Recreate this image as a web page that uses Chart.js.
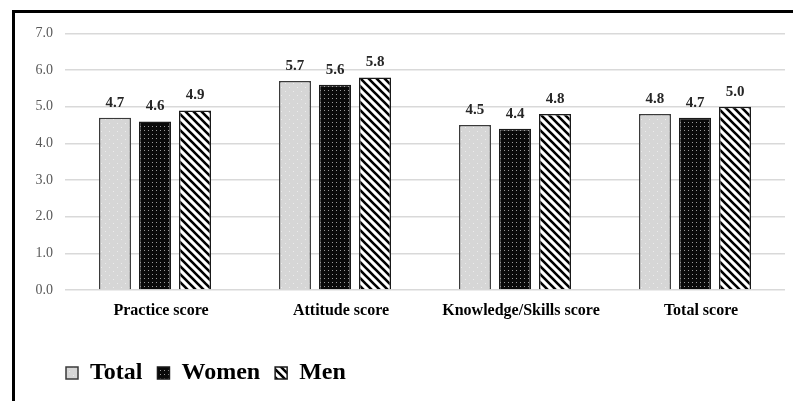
<!DOCTYPE html>
<html lang="en">
<head>
    <meta charset="UTF-8">
    <title>Scores</title>
    <script src="https://cdn.jsdelivr.net/npm/chart.js"></script>
    <style>
        html, body { margin: 0; padding: 0; background: #fff; }
        .frame {
            position: absolute;
            left: 12px;
            top: 10px;
            width: 778px;
            height: 388px;
            border-left: 3px solid #000;
            border-top: 3px solid #000;
        }
        .frame canvas { display: block; }
    </style>
</head>
<body>
    <div class="frame">
        <canvas id="myChartScores" width="778" height="388"></canvas>
    </div>

<script>
    const categories = ['Practice score', 'Attitude score', 'Knowledge/Skills score', 'Total score'];
    const seriesNames = ['Total', 'Women', 'Men'];
    const totalValues = [4.7, 5.7, 4.5, 4.8];
    const womenValues = [4.6, 5.6, 4.4, 4.7];
    const menValues = [4.9, 5.8, 4.8, 5.0];
    const yTicks = [0, 1, 2, 3, 4, 5, 6, 7];

    const serif = "'Liberation Serif', 'Times New Roman', serif";

    function makeTile(size, draw) {
        const c = document.createElement('canvas');
        c.width = size;
        c.height = size;
        draw(c.getContext('2d'), size);
        return document.createElement('canvas').getContext('2d').createPattern(c, 'repeat');
    }

    // light gray with faint dots
    const patTotal = makeTile(8, function (g, s) {
        g.fillStyle = '#d6d6d6';
        g.fillRect(0, 0, s, s);
        g.fillStyle = '#ececec';
        g.fillRect(2, 2, 1, 1);
        g.fillRect(6, 6, 1, 1);
    });

    // black with white dot grid
    const patWomen = makeTile(4, function (g, s) {
        g.fillStyle = '#0a0a0a';
        g.fillRect(0, 0, s, s);
        g.fillStyle = '#9a9a9a';
        g.fillRect(1, 1, 1, 1);
    });

    // white with black "\" stripes
    const patMen = makeTile(8, function (g, s) {
        g.fillStyle = '#ffffff';
        g.fillRect(0, 0, s, s);
        g.strokeStyle = '#000';
        g.lineWidth = 2.6;
        g.beginPath();
        for (let k = -1; k <= 1; k++) {
            g.moveTo(k * s - 1, -1);
            g.lineTo(k * s + s + 1, s + 1);
        }
        g.stroke();
    });

    const valueLabels = {
        id: 'valueLabels',
        afterDatasetsDraw(chart) {
            const ctx = chart.ctx;
            ctx.save();
            ctx.font = 'bold 15px ' + serif;
            ctx.fillStyle = '#262626';
            ctx.textAlign = 'center';
            ctx.textBaseline = 'alphabetic';
            chart.data.datasets.forEach(function (ds, i) {
                chart.getDatasetMeta(i).data.forEach(function (bar, j) {
                    ctx.fillText(ds.data[j].toFixed(1), bar.x, bar.y - 11);
                });
            });
            ctx.restore();
        }
    };

    // legend sits under the plot area, not at the canvas edge
    const legendShift = {
        id: 'legendShift',
        afterLayout(chart) {
            chart.legend.left += 36;
            chart.legend.right += 36;
        }
    };

    function ctxScores() {
        const ctx = document.getElementById('myChartScores').getContext('2d');
        const data = {
            labels: categories,
            datasets: [
                {
                    label: seriesNames[0],
                    data: totalValues,
                    backgroundColor: patTotal,
                    borderColor: '#3a3a3a',
                    borderWidth: 1.5
                },
                {
                    label: seriesNames[1],
                    data: womenValues,
                    backgroundColor: patWomen,
                    borderColor: '#1a1a1a',
                    borderWidth: 1.5
                },
                {
                    label: seriesNames[2],
                    data: menValues,
                    backgroundColor: patMen,
                    borderColor: '#1a1a1a',
                    borderWidth: 1.5
                }
            ]
        };

        const config = {
            type: 'bar',
            data: data,
            plugins: [valueLabels, legendShift],
            options: {
                responsive: false,
                animation: false,
                events: [],
                datasets: {
                    bar: {
                        categoryPercentage: 0.667,
                        barPercentage: 0.8
                    }
                },
                layout: {
                    padding: { left: 0, right: 8, top: 16, bottom: 6 }
                },
                plugins: {
                    tooltip: { enabled: false },
                    legend: {
                        position: 'bottom',
                        align: 'start',
                        labels: {
                            boxWidth: 12,
                            boxHeight: 12,
                            padding: 15,
                            color: '#000',
                            font: { family: serif, size: 24, weight: 'bold' }
                        }
                    }
                },
                scales: {
                    x: {
                        grid: { display: false, drawTicks: false },
                        border: { display: false },
                        ticks: {
                            padding: 11,
                            labelOffset: 6,
                            color: '#000',
                            maxRotation: 0,
                            font: { family: serif, size: 16, weight: 'bold' }
                        },
                        afterFit(scale) { scale.height = 56; }
                    },
                    y: {
                        min: yTicks[0],
                        max: yTicks[yTicks.length - 1],
                        ticks: {
                            stepSize: yTicks[1] - yTicks[0],
                            padding: 12,
                            color: '#595959',
                            font: { family: serif, size: 14 },
                            callback: function (v) { return Number(v).toFixed(1); }
                        },
                        grid: { color: '#d9d9d9', lineWidth: 1.5, drawTicks: false },
                        border: { display: false },
                        afterFit(scale) { scale.width = 50; }
                    }
                }
            }
        };

        new Chart(ctx, config);
    }

    ctxScores();
</script>
</body>
</html>
